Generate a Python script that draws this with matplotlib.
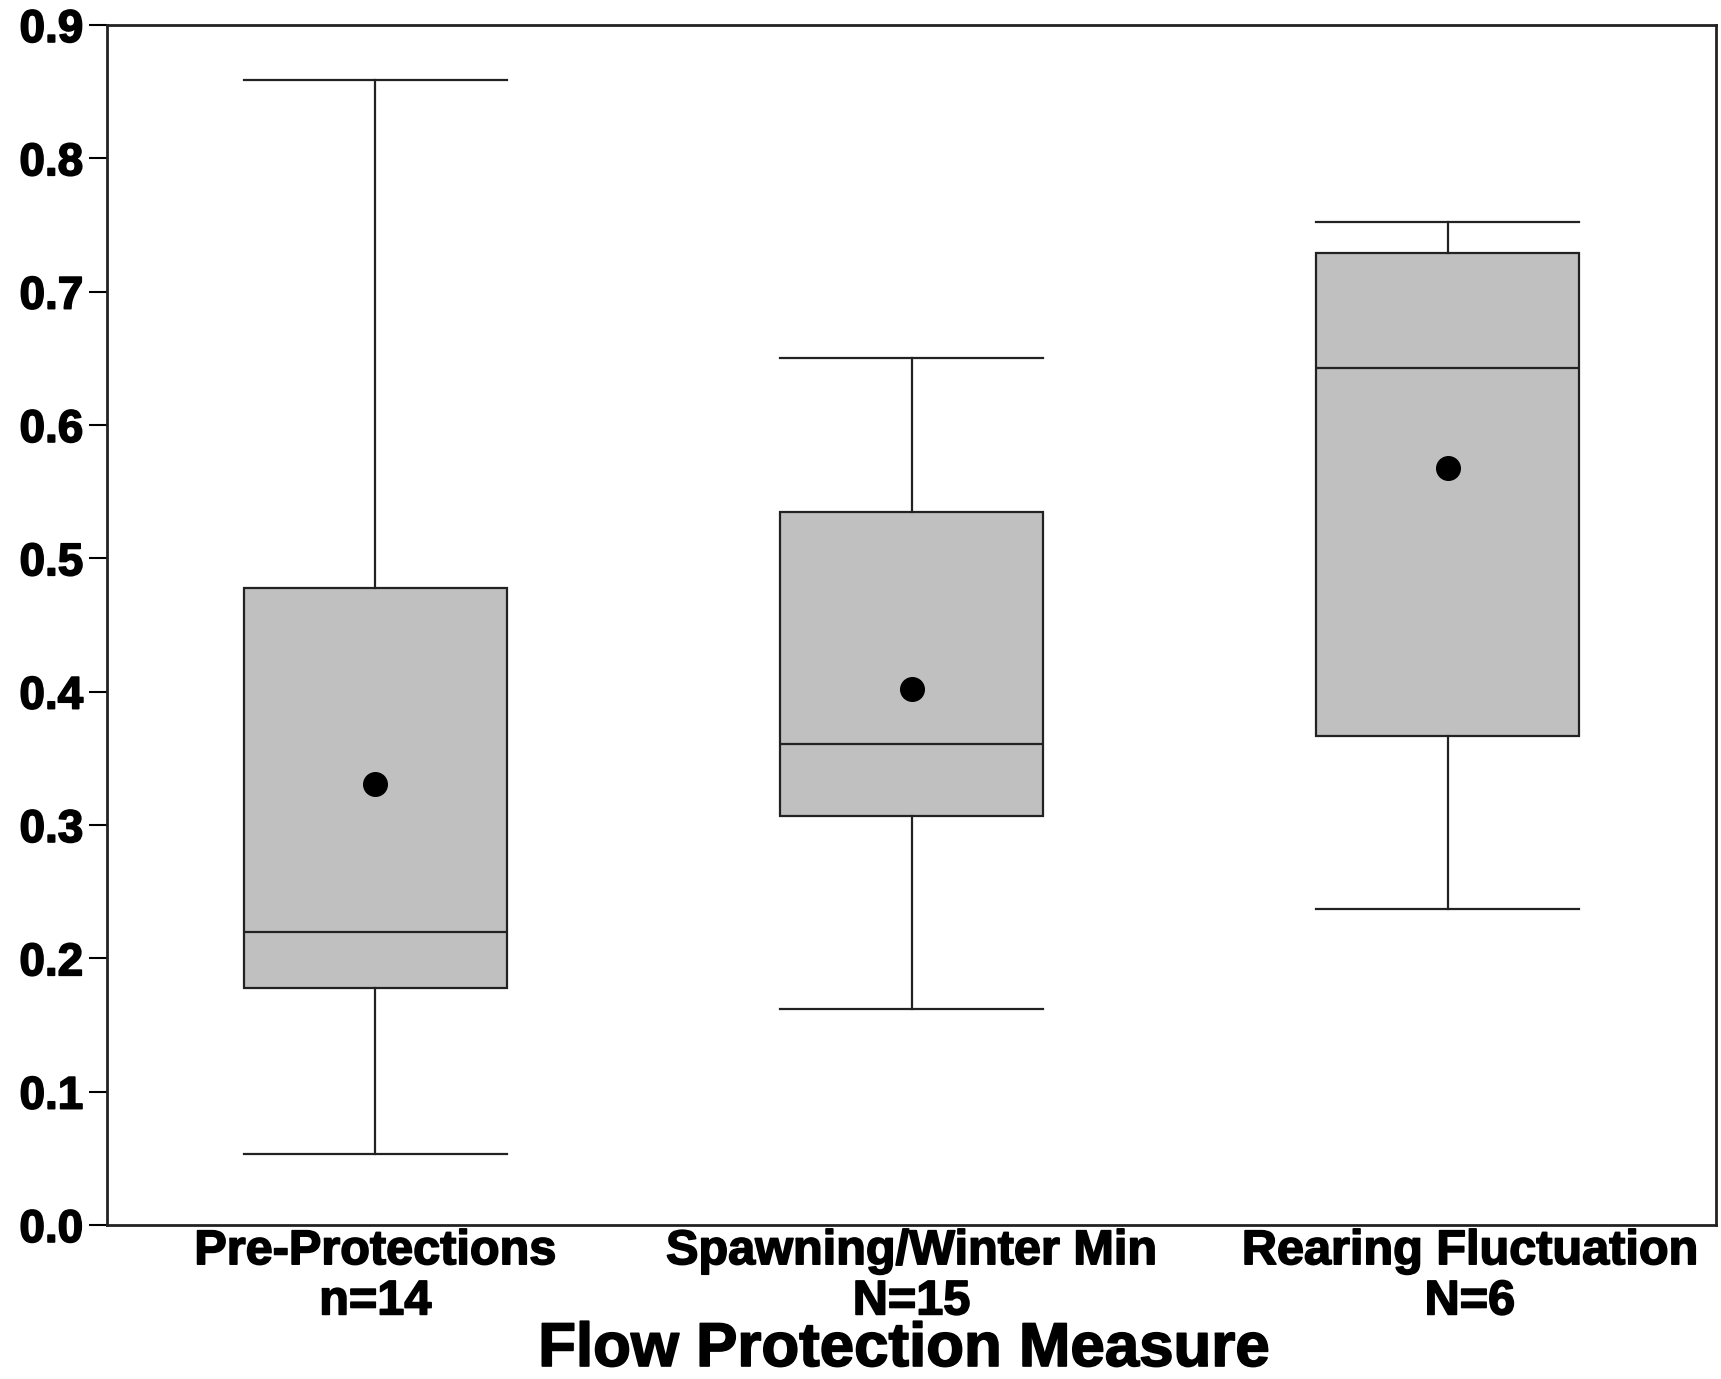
import matplotlib.pyplot as plt
import matplotlib.transforms as mtransforms
import matplotlib.patheffects as pe

plt.rcParams['font.family'] = ['Liberation Sans', 'DejaVu Sans']

# box statistics
labels = ['Pre-Protections\nn=14', 'Spawning/Winter Min\nN=15', 'Rearing Fluctuation\nN=6']
whislo = [0.053, 0.162, 0.237]
q1 = [0.178, 0.307, 0.367]
med = [0.220, 0.361, 0.643]
q3 = [0.478, 0.535, 0.729]
whishi = [0.859, 0.650, 0.752]
means = [0.331, 0.402, 0.568]

stats = []
for i in range(len(labels)):
    stats.append({'whislo': whislo[i], 'q1': q1[i], 'med': med[i], 'q3': q3[i],
                  'whishi': whishi[i], 'mean': means[i], 'fliers': [], 'label': labels[i]})

fig = plt.figure(figsize=(17.21, 13.79), dpi=100)
ax = fig.add_axes([0.0622, 0.1117, 0.9349, 0.8702])

ax.bxp(stats, positions=[1, 2, 3], widths=0.49, patch_artist=True, showmeans=True,
       boxprops=dict(facecolor='#c0c0c0', edgecolor='#222222', linewidth=1.6),
       medianprops=dict(color='#222222', linewidth=1.6),
       whiskerprops=dict(color='#222222', linewidth=1.6),
       capprops=dict(color='#222222', linewidth=1.6),
       capwidths=0.49,
       meanprops=dict(marker='o', markerfacecolor='black', markeredgecolor='black', markersize=17))

# heavier strokes to mimic the thick font of the original
heavy = [pe.withStroke(linewidth=1.2, foreground='black')]

ax.set_xlim(0.5, 3.5)
ax.set_ylim(0, 0.9)
ax.set_yticks([0.0, 0.1, 0.2, 0.3, 0.4, 0.5, 0.6, 0.7, 0.8, 0.9])
ax.set_yticklabels(['%.1f' % v for v in ax.get_yticks()], fontsize=33, fontweight='bold')
ax.tick_params(axis='y', length=13, width=1.5, pad=4, colors='black')
ax.tick_params(axis='x', length=0, pad=3)
for lab in ax.get_yticklabels():
    lab.set_path_effects(heavy)
for lab in ax.get_xticklabels():
    lab.set_fontsize(35)
    lab.set_fontweight('bold')
    lab.set_linespacing(1.15)
    lab.set_path_effects(heavy)
# last label sits a little to the right in the original
offset = mtransforms.ScaledTranslation(0.22, 0, fig.dpi_scale_trans)
xl = ax.get_xticklabels()[2]
xl.set_transform(xl.get_transform() + offset)

for s in ax.spines.values():
    s.set_linewidth(2)
    s.set_color('#222222')

fig.text(0.525, 0.0, 'Flow Protection Measure', fontsize=44.5, fontweight='bold',
         ha='center', va='bottom', path_effects=heavy)

fig.savefig('out.png', dpi=100)
